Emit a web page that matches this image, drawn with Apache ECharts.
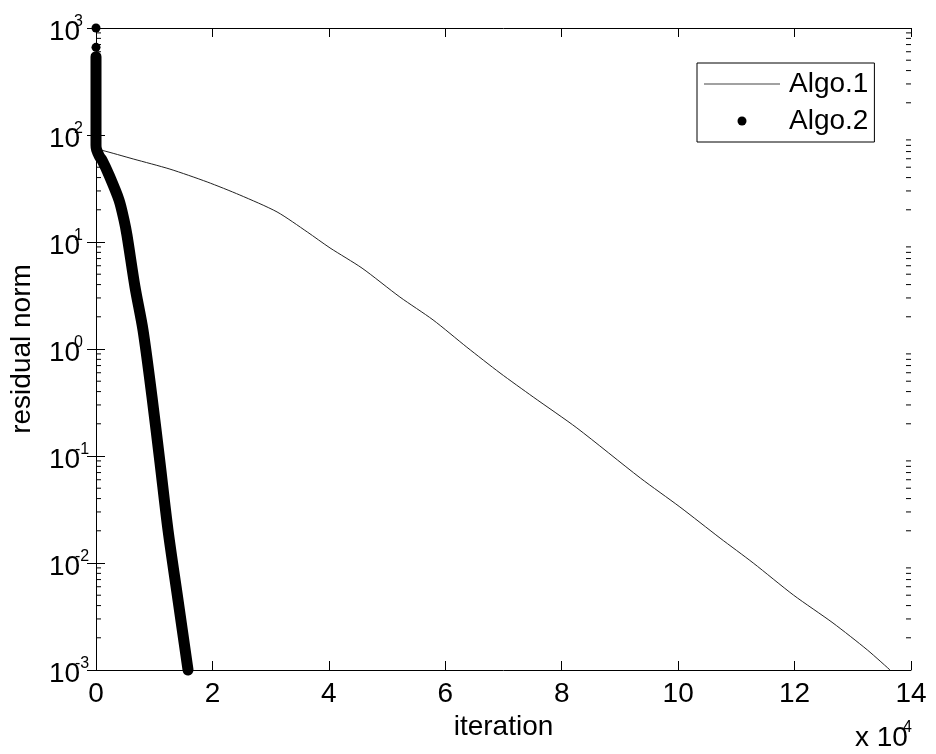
<!DOCTYPE html>
<html>
<head>
<meta charset="utf-8">
<script src="https://cdn.jsdelivr.net/npm/echarts@6/dist/echarts.min.js"></script>
<style>
html,body{margin:0;padding:0;background:#fff;}
#chart{width:936px;height:754px;}
</style>
</head>
<body>
<div id="chart"></div>
<script>
// ---- data ----
const seriesNames = ['Algo.1', 'Algo.2'];
const xTickValues = [0, 20000, 40000, 60000, 80000, 100000, 120000, 140000];
const yTickValues = [0.001, 0.01, 0.1, 1, 10, 100, 1000];

const algo1Iter = [0, 1000, 6400, 12700, 19100, 24700, 31100, 36300, 40200, 45700, 52200, 57900, 63700, 69400, 75100, 82600, 93500, 100300, 107200, 112900, 119800, 126600, 132500, 136400];
const algo1Res  = [73, 72, 59.7, 48, 36.4, 27.5, 19.1, 12.4, 8.8, 5.7, 3.06, 1.87, 1.04, 0.597, 0.356, 0.183, 0.0623, 0.0334, 0.0171, 0.0100, 0.00502, 0.00275, 0.00154, 0.001];

// null residual = break between isolated early iterates
const algo2Iter = [0, 0, 0, 0, 0, 0, 0, 100, 600, 1030, 2230, 3950, 4810, 5330, 6700, 8075, 9620, 11000, 12370, 14090, 15810];
const algo2Res  = [1000, null, 660, null, 540, 90, 80, 73, 63, 58.4, 42.3, 24.7, 16.1, 11.5, 3.8, 1.5, 0.356, 0.086, 0.0203, 0.0045, 0.001];

const FONT = 'Liberation Sans';

const algo1Data = algo1Iter.map((x, i) => [x, algo1Res[i]]);
const algo2Data = algo2Iter.map((x, i) => [x, algo2Res[i]]);

// minor log ticks (2..9 x 10^k)
const minorTicks = [];
for (let e = -3; e < 3; e++) {
  for (let k = 2; k <= 9; k++) minorTicks.push([0, k * Math.pow(10, e)]);
}

const supRich = {
  b: { fontSize: 28, fontFamily: FONT, color: '#000', lineHeight: 28, padding: [9, 0, 0, 0], width: 25 },
  s: { fontSize: 16, fontFamily: FONT, color: '#000', lineHeight: 16, verticalAlign: 'top' },
  n: { fontSize: 16, fontFamily: FONT, color: '#000', lineHeight: 16, verticalAlign: 'top', padding: [0, 0, 0, 1] }
};
const xRich = {
  b: { fontSize: 28, fontFamily: FONT, color: '#000', lineHeight: 28, padding: [9, 0, 0, 0], width: 48 },
  s: { fontSize: 16, fontFamily: FONT, color: '#000', lineHeight: 16, verticalAlign: 'top' }
};

function expLabel(v) {
  const e = Math.round(Math.log10(v));
  return e < 0 ? '{b|10}{n|-' + Math.abs(e) + '}' : '{b|10}{s|' + e + '}';
}

const axisLineStyle = { lineStyle: { color: '#000', width: 1 } };

const chart = echarts.init(document.getElementById('chart'), null, { renderer: 'canvas' });

chart.setOption({
  animation: false,
  backgroundColor: '#fff',
  grid: { left: 96, right: 25, top: 28, bottom: 84, containLabel: false },
  legend: {
    orient: 'vertical',
    left: 697,
    top: 63,
    itemWidth: 76,
    itemHeight: 9,
    itemGap: 9,
    padding: [7, 6, 7, 7],
    borderColor: '#000',
    borderWidth: 1,
    backgroundColor: '#fff',
    selectedMode: false,
    symbolKeepAspect: true,
    textStyle: { fontSize: 28, fontFamily: FONT, color: '#000', padding: [0, 0, 0, 4] },
    data: [
      { name: seriesNames[0], icon: 'path://M0,0H76V1H0Z', itemStyle: { color: '#444' } },
      { name: seriesNames[1], icon: 'circle' }
    ]
  },
  xAxis: [
    {
      type: 'value', position: 'bottom', min: 0, max: 140000, interval: 20000,
      axisLine: axisLineStyle, splitLine: { show: false },
      axisTick: { inside: true, length: 9, lineStyle: { color: '#000' } },
      axisLabel: {
        margin: 10, color: '#000', fontSize: 28, fontFamily: FONT,
        formatter: v => String(v / 10000)
      },
      name: 'iteration', nameLocation: 'middle', nameGap: 41,
      nameTextStyle: { fontSize: 28, fontFamily: FONT, color: '#000' }
    },
    {
      type: 'value', position: 'top', min: 0, max: 140000, interval: 20000,
      axisLine: axisLineStyle, splitLine: { show: false },
      axisTick: { inside: true, length: 9, lineStyle: { color: '#000' } },
      axisLabel: { show: false }
    }
  ],
  yAxis: [
    {
      type: 'log', logBase: 10, position: 'left', min: 0.001, max: 1000, splitNumber: 6,
      axisLine: axisLineStyle, splitLine: { show: false },
      axisTick: { inside: true, length: 9, lineStyle: { color: '#000' } },
      axisLabel: { margin: 47, align: 'left', formatter: expLabel, rich: supRich },
      name: 'residual norm', nameLocation: 'middle', nameGap: 60,
      nameTextStyle: { fontSize: 28, fontFamily: FONT, color: '#000' }
    },
    {
      type: 'log', logBase: 10, position: 'right', min: 0.001, max: 1000, splitNumber: 6,
      axisLine: axisLineStyle, splitLine: { show: false },
      axisTick: { inside: true, length: 9, lineStyle: { color: '#000' } },
      axisLabel: { show: false }
    }
  ],
  graphic: [
    {
      type: 'text', x: 855, y: 734, z: 10,
      style: {
        text: '{b|x 10}{s|4}', rich: xRich,
        textAlign: 'left', textVerticalAlign: 'middle',
        align: 'left', verticalAlign: 'middle'
      }
    }
  ],
  series: [
    {
      type: 'custom', name: 'minorTicks', xAxisIndex: 0, yAxisIndex: 0, silent: true,
      encode: { x: 0, y: 1 }, clip: false,
      data: minorTicks,
      renderItem: function (params, api) {
        const y = api.coord([0, api.value(1)])[1];
        const cs = params.coordSys;
        return {
          type: 'group',
          children: [
            { type: 'line', shape: { x1: cs.x, y1: y, x2: cs.x + 5, y2: y }, style: { stroke: '#000', lineWidth: 1 } },
            { type: 'line', shape: { x1: cs.x + cs.width - 5, y1: y, x2: cs.x + cs.width, y2: y }, style: { stroke: '#000', lineWidth: 1 } }
          ]
        };
      }
    },
    {
      type: 'line', name: seriesNames[0], data: algo1Data,
      symbol: 'none', smooth: 0.25,
      lineStyle: { color: '#222', width: 1 },
      itemStyle: { color: '#222' }
    },
    {
      type: 'line', name: seriesNames[1], data: algo2Data,
      symbol: 'circle', symbolSize: 9, showSymbol: true, showAllSymbol: true,
      connectNulls: false, clip: false, smooth: 0.3,
      lineStyle: { color: '#000', width: 11, cap: 'round', join: 'round' },
      itemStyle: { color: '#000' }
    }
  ]
});
</script>
</body>
</html>
